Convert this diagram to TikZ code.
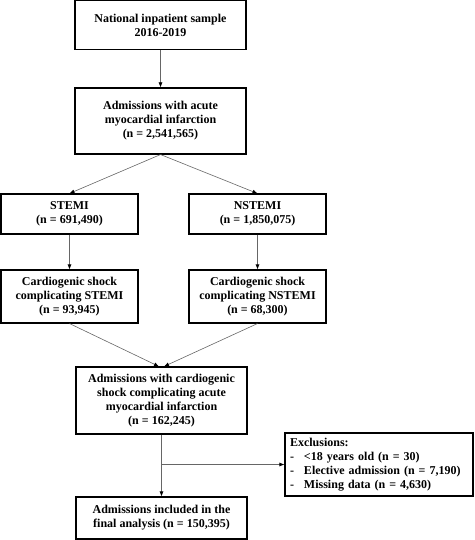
\documentclass[tikz,border=0pt]{standalone}
\usepackage{fontspec}
\setmainfont{Liberation Serif}
\usetikzlibrary{arrows.meta}
\begin{document}
\begin{tikzpicture}[x=1pt,y=-1pt,font=\fontsize{12}{14}\selectfont\bfseries,
    box/.style={draw,line width=1.1pt,align=center,inner sep=0pt},
    link/.style={draw=black!60,line width=0.6pt,-{Latex[length=5pt,width=4pt,black]}}]
    \useasboundingbox (0,0) rectangle (474,540);
    % main column
    \node[box,minimum width=171,minimum height=49] (sample) at (160.5,25) {National inpatient sample\\2016-2019};
    \node[box,minimum width=171,minimum height=66] (ami) at (160.5,121) {Admissions with acute\\myocardial infarction\\(n = 2,541,565)};
    % the two branches
    \node[box,minimum width=137,minimum height=40] (stemi) at (69.5,214) {STEMI\\(n = 691,490)};
    \node[box,minimum width=137,minimum height=40] (nstemi) at (257.5,214) {NSTEMI\\(n = 1,850,075)};
    \node[box,minimum width=137,minimum height=53] (csstemi) at (69.5,296.5) {Cardiogenic shock\\complicating STEMI\\(n = 93,945)};
    \node[box,minimum width=137,minimum height=53] (csnstemi) at (257.5,296.5) {Cardiogenic shock\\complicating NSTEMI\\(n = 68,300)};
    % joined again
    \node[box,minimum width=171,minimum height=67] (csami) at (161.5,400.5) {Admissions with cardiogenic\\shock complicating acute\\myocardial infarction\\(n = 162,245)};
    \node[box,minimum width=171,minimum height=42] (final) at (161.5,518) {Admissions included in the\\final analysis (n = 150,395)};
    \node[box,align=left,text width=178,inner xsep=5pt,minimum height=63] (excl) at (379,464.5)
        {Exclusions:\\\makebox[14pt][l]{-}<18 years old (n = 30)\\\makebox[14pt][l]{-}Elective admission (n = 7,190)\\\makebox[14pt][l]{-}Missing data (n = 4,630)};
    % connectors
    \foreach \from/\to in {sample/ami, ami/stemi, ami/nstemi, stemi/csstemi, nstemi/csnstemi, csami/final} {
        \draw[link] (\from.south) -- (\to.north);
    }
    \draw[link] (csstemi.south) -- ([xshift=-2.5]csami.north);
    \draw[link] (csnstemi.south) -- ([xshift=2.5]csami.north);
    \coordinate (split) at (csami.south |- excl.west);
    \draw[link] (split) -- (excl.west);
\end{tikzpicture}
\end{document}
